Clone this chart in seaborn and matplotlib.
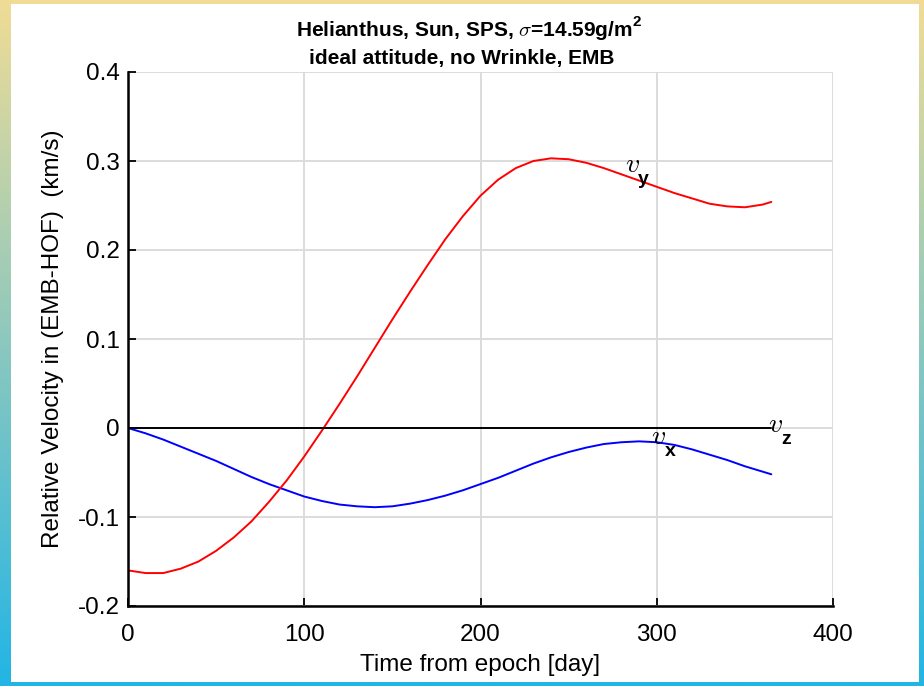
import numpy as np
import pandas as pd
import matplotlib
matplotlib.use("Agg")
import matplotlib.pyplot as plt
import seaborn as sns
from matplotlib.colors import LinearSegmentedColormap

days = [0, 10, 20, 30, 40, 50, 60, 70, 80, 90, 100, 110, 120, 130, 140, 150, 160, 170, 180,
        190, 200, 210, 220, 230, 240, 250, 260, 270, 280, 290, 300, 310, 320, 330, 340, 350, 360, 365]
vy = [-0.160, -0.163, -0.163, -0.158, -0.150, -0.138, -0.123, -0.105, -0.083, -0.059, -0.032,
      -0.003, 0.027, 0.058, 0.090, 0.122, 0.153, 0.183, 0.212, 0.238, 0.261, 0.279, 0.292,
      0.300, 0.303, 0.302, 0.298, 0.292, 0.285, 0.278, 0.271, 0.264, 0.258, 0.252, 0.249,
      0.248, 0.251, 0.254]
vx = [0.0, -0.006, -0.013, -0.021, -0.029, -0.037, -0.046, -0.055, -0.063, -0.070, -0.077,
      -0.082, -0.086, -0.088, -0.089, -0.088, -0.085, -0.081, -0.076, -0.070, -0.063, -0.056,
      -0.048, -0.040, -0.033, -0.027, -0.022, -0.018, -0.016, -0.015, -0.016, -0.019, -0.024,
      -0.030, -0.036, -0.043, -0.049, -0.052]
vz = [0.0] * len(days)

xticks = [0, 100, 200, 300, 400]
yticks = [-0.2, -0.1, 0, 0.1, 0.2, 0.3, 0.4]
ytick_labels = ["-0.2", "-0.1", "0", "0.1", "0.2", "0.3", "0.4"]

title1 = "Helianthus, Sun, SPS, $\\sigma$=14.59g/m"
title1_sup = "2"
title2 = "ideal attitude, no Wrinkle, EMB"

df = pd.DataFrame({
    "day": days * 3,
    "v": vx + vy + vz,
    "comp": ["x"] * len(days) + ["y"] * len(days) + ["z"] * len(days),
})

sns.set_theme(style="white")
plt.rcParams["font.family"] = ["Liberation Sans", "DejaVu Sans"]
plt.rcParams["mathtext.fontset"] = "cm"
plt.rcParams["text.color"] = "black"
plt.rcParams["axes.labelcolor"] = "black"

W, H = 924, 686
fig = plt.figure(figsize=(W / 100, H / 100), dpi=100)
fig.patch.set_facecolor("white")

# gradient frame
bg = fig.add_axes([0, 0, 1, 1], zorder=-10)
cmap = LinearSegmentedColormap.from_list("frame", ["#F0DC96", "#8CC8BE", "#22B5E5"])
grad = np.linspace(0, 1, 256).reshape(-1, 1)
bg.imshow(grad, aspect="auto", cmap=cmap, extent=[0, 1, 0, 1], origin="upper")
bg.add_patch(plt.Rectangle((11 / W, 4 / H), (919 - 11) / W, (682 - 4) / H,
                           facecolor="white", edgecolor="none"))
bg.set_xlim(0, 1)
bg.set_ylim(0, 1)
bg.axis("off")

ax = fig.add_axes([128 / W, (H - 606) / H, (833 - 128) / W, (606 - 72) / H])
ax.set_facecolor("white")
sns.lineplot(data=df, x="day", y="v", hue="comp",
             palette={"x": "#0000FF", "y": "#FF0000", "z": "#000000"},
             ax=ax, legend=False, linewidth=1.4, sort=False)

ax.set_xlim(0, 400)
ax.set_ylim(-0.2, 0.4)
ax.set_xticks(xticks)
ax.set_xticklabels([str(t) for t in xticks])
ax.set_yticks(yticks)
ax.set_yticklabels(ytick_labels)
ax.grid(True, color="#D9D9D9", linewidth=1.3)
ax.set_axisbelow(True)
for s in ["top", "right"]:
    ax.spines[s].set_visible(False)
for s in ["left", "bottom"]:
    ax.spines[s].set_color("black")
    ax.spines[s].set_linewidth(1.8)
ax.tick_params(direction="in", length=6, width=1.3, colors="black", labelsize=17.5,
               left=True, bottom=True)
ax.tick_params(axis="x", pad=13)
ax.tick_params(axis="y", pad=6)
ax.set_xlabel("Time from epoch [day]", fontsize=17.5, labelpad=6, color="black")
ax.set_ylabel("Relative Velocity in (EMB-HOF)  (km/s)", fontsize=17.5, labelpad=10, color="black")

# title (two lines, superscript drawn as bold sans)
t1 = fig.text(0.5, 1 - 36 / H, title1, fontsize=15, fontweight="bold", ha="left", va="baseline",
              color="black")
t1s = fig.text(0.5, 1 - 26 / H, title1_sup, fontsize=11, fontweight="bold", ha="left", va="baseline",
               color="black")
fig.text(0.5, 1 - 64 / H, title2, fontsize=15, fontweight="bold", ha="center", va="baseline",
         color="black")
fig.canvas.draw()
r = fig.canvas.get_renderer()
w1 = t1.get_window_extent(r).width
w2 = t1s.get_window_extent(r).width
x0 = (W - (w1 + w2)) / 2 + 6
t1.set_x(x0 / W)
t1s.set_x((x0 + w1 + 1) / W)

# curve labels
def vlabel(x, y, sub):
    ax.text(x, y, "$v$", fontsize=20, ha="left", va="baseline", color="black")
    ax.text(x + 7.5, y - 0.014, sub, fontsize=14, fontweight="bold", ha="left", va="baseline",
            color="black")

vlabel(282, 0.288, "y")
vlabel(297, -0.018, "x")
vlabel(363, -0.004, "z")

fig.savefig("out.png", dpi=100)
